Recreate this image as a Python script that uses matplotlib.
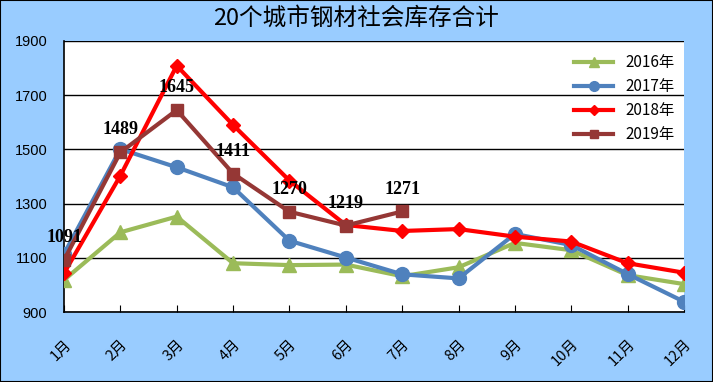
import matplotlib
matplotlib.use('Agg')
import matplotlib.pyplot as plt
from matplotlib.patches import Rectangle

plt.rcParams['font.family'] = ['Noto Sans CJK SC', 'DejaVu Sans']

# ── Datos ────────────────────────────────────────────────────────────────────
months = ['1月', '2月', '3月', '4月', '5月', '6月',
          '7月', '8月', '9月', '10月', '11月', '12月']
s2016 = [1018, 1194, 1252, 1080, 1073, 1075, 1032, 1065, 1155, 1128, 1036, 1003]
s2017 = [1114, 1501, 1434, 1360, 1163, 1101, 1039, 1024, 1188, 1147, 1040, 938]
s2018 = [1043, 1403, 1809, 1590, 1385, 1221, 1199, 1206, 1178, 1160, 1080, 1045]
s2019 = [1091, 1489, 1645, 1411, 1270, 1219, 1271]
yticks = [900, 1100, 1300, 1500, 1700, 1900]

BG = '#99CCFF'
fig = plt.figure(figsize=(7.13, 3.82), dpi=100, facecolor=BG)
fig.patches.append(Rectangle((0, 0), 1, 1, transform=fig.transFigure,
                             fill=False, edgecolor='black', lw=1.5))
ax = fig.add_axes([64 / 713, 1 - 312 / 382, 620 / 713, 271 / 382])
ax.set_facecolor('white')

x = list(range(len(months)))
ax.plot(x, s2016, '-^', color='#9BBB59', lw=3, ms=10, label='2016年', zorder=3)
ax.plot(x, s2017, '-o', color='#4F81BD', lw=3, ms=10, label='2017年', zorder=3)
ax.plot(x, s2018, '-D', color='#FF0000', lw=3, ms=7.5, label='2018年', zorder=4)
ax.plot(x[:len(s2019)], s2019, '-s', color='#953735', lw=3, ms=8.5,
        label='2019年', zorder=5)

# Etiquetas de datos 2019
for i, v in enumerate(s2019):
    ax.annotate(str(v), (i, v), xytext=(0, 10), textcoords='offset points',
                ha='center', va='bottom', fontsize=13, fontweight='bold',
                family='Liberation Serif', zorder=6)

ax.set_xlim(0, 11)
ax.set_ylim(900, 1900)
ax.set_yticks(yticks)
ax.set_yticklabels([str(t) for t in yticks], family='Liberation Sans', fontsize=10.5)
ax.yaxis.grid(True, color='black', lw=1)
ax.set_axisbelow(True)
ax.tick_params(axis='y', length=0, pad=12)
ax.set_xticks(x)
ax.set_xticklabels(months, rotation=45, ha='right', va='top', fontsize=10.5,
                   rotation_mode='anchor')
ax.tick_params(axis='x', direction='in', length=5, pad=18)

for side in ['left', 'bottom']:
    ax.spines[side].set_color('black')
    ax.spines[side].set_linewidth(1.2)
ax.spines['top'].set_visible(False)
ax.spines['right'].set_visible(False)

leg = ax.legend(loc='upper right', frameon=False, fontsize=11,
                handlelength=2.6, markerscale=0.7, labelspacing=0.45,
                borderaxespad=0.2, bbox_to_anchor=(1.0, 0.985))

fig.text(0.5, 1 - 18 / 382, '20个城市钢材社会库存合计', ha='center', va='center',
         fontsize=17)

fig.savefig('out.png', dpi=100, facecolor=BG)
